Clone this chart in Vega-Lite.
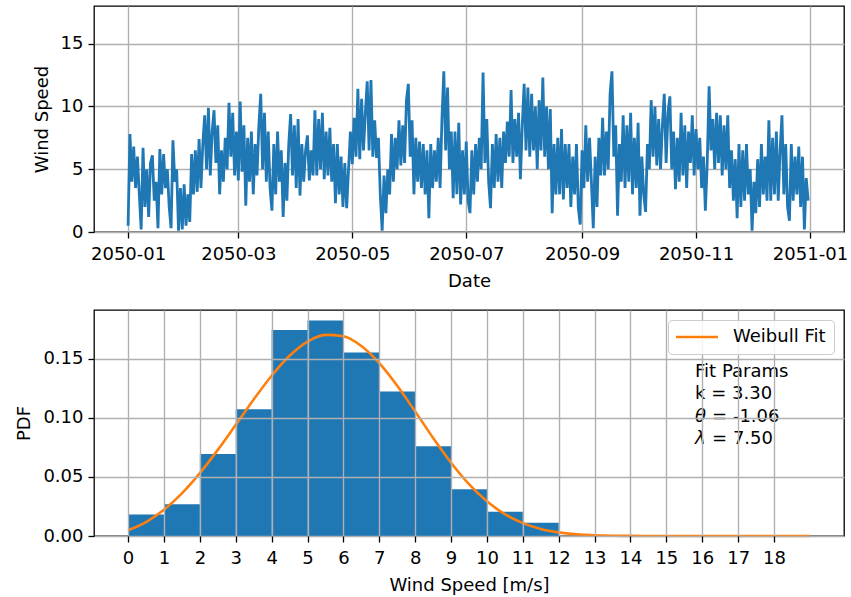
{
"$schema": "https://vega.github.io/schema/vega-lite/v6.json",
"padding": {"left": 15, "top": 5, "right": 2, "bottom": 0},
"background": "white",
"spacing": 18,
"config": {
  "font": "DejaVu Sans",
  "view": {"stroke": "black", "strokeWidth": 1.3},
  "axis": {"grid": true, "gridColor": "#b0b0b0", "gridWidth": 1.4, "domain": false, "tickColor": "black", "tickSize": 6, "tickWidth": 1.3, "labelFontSize": 18, "labelColor": "black", "titleFontSize": 18, "titleFontWeight": "normal", "titleColor": "black", "labelPadding": 5, "titlePadding": 9, "labelFlush": false, "labelOverlap": false},
  "axisX": {"labelPadding": 7},
  "text": {"font": "DejaVu Sans"}
},
"resolve": {"scale": {"color": "independent"}, "legend": {"color": "independent"}},
"datasets": {
"ts": [
{"t":"2050-01-01","v":0.5},{"t":"2050-01-02","v":7.8},{"t":"2050-01-03","v":4.0},{"t":"2050-01-04","v":6.8},{"t":"2050-01-05","v":3.5},{"t":"2050-01-06","v":6.0},{"t":"2050-01-07","v":3.0},{"t":"2050-01-08","v":0.2},{"t":"2050-01-09","v":6.7},{"t":"2050-01-10","v":2.0},{"t":"2050-01-11","v":5.0},{"t":"2050-01-12","v":1.2},{"t":"2050-01-13","v":5.5},{"t":"2050-01-14","v":6.1},{"t":"2050-01-15","v":2.5},{"t":"2050-01-16","v":4.0},{"t":"2050-01-17","v":0.3},{"t":"2050-01-18","v":6.6},{"t":"2050-01-19","v":3.0},{"t":"2050-01-20","v":6.2},{"t":"2050-01-21","v":3.5},{"t":"2050-01-22","v":5.0},{"t":"2050-01-23","v":2.0},{"t":"2050-01-24","v":0.3},{"t":"2050-01-25","v":7.3},{"t":"2050-01-26","v":4.0},{"t":"2050-01-27","v":5.0},{"t":"2050-01-28","v":0.1},{"t":"2050-01-29","v":3.5},{"t":"2050-01-30","v":0.2},{"t":"2050-01-31","v":3.8},
{"t":"2050-02-01","v":0.5},{"t":"2050-02-02","v":3.0},{"t":"2050-02-03","v":0.8},{"t":"2050-02-04","v":6.2},{"t":"2050-02-05","v":3.0},{"t":"2050-02-06","v":6.5},{"t":"2050-02-07","v":3.2},{"t":"2050-02-08","v":7.4},{"t":"2050-02-09","v":3.5},{"t":"2050-02-10","v":7.0},{"t":"2050-02-11","v":9.3},{"t":"2050-02-12","v":5.0},{"t":"2050-02-13","v":9.9},{"t":"2050-02-14","v":4.5},{"t":"2050-02-15","v":8.0},{"t":"2050-02-16","v":9.7},{"t":"2050-02-17","v":5.5},{"t":"2050-02-18","v":8.5},{"t":"2050-02-19","v":3.0},{"t":"2050-02-20","v":6.5},{"t":"2050-02-21","v":4.0},{"t":"2050-02-22","v":7.5},{"t":"2050-02-23","v":5.0},{"t":"2050-02-24","v":10.3},{"t":"2050-02-25","v":6.0},{"t":"2050-02-26","v":9.5},{"t":"2050-02-27","v":4.5},{"t":"2050-02-28","v":8.0},
{"t":"2050-03-01","v":4.1},{"t":"2050-03-02","v":10.4},{"t":"2050-03-03","v":4.8},{"t":"2050-03-04","v":8.5},{"t":"2050-03-05","v":2.1},{"t":"2050-03-06","v":7.5},{"t":"2050-03-07","v":4.0},{"t":"2050-03-08","v":8.0},{"t":"2050-03-09","v":3.0},{"t":"2050-03-10","v":7.0},{"t":"2050-03-11","v":4.5},{"t":"2050-03-12","v":8.5},{"t":"2050-03-13","v":11.0},{"t":"2050-03-14","v":5.0},{"t":"2050-03-15","v":9.5},{"t":"2050-03-16","v":4.0},{"t":"2050-03-17","v":8.0},{"t":"2050-03-18","v":3.5},{"t":"2050-03-19","v":1.7},{"t":"2050-03-20","v":7.0},{"t":"2050-03-21","v":3.0},{"t":"2050-03-22","v":8.0},{"t":"2050-03-23","v":4.0},{"t":"2050-03-24","v":6.5},{"t":"2050-03-25","v":1.2},{"t":"2050-03-26","v":5.5},{"t":"2050-03-27","v":2.5},{"t":"2050-03-28","v":7.0},{"t":"2050-03-29","v":9.4},{"t":"2050-03-30","v":4.5},{"t":"2050-03-31","v":8.5},
{"t":"2050-04-01","v":3.5},{"t":"2050-04-02","v":9.0},{"t":"2050-04-03","v":2.9},{"t":"2050-04-04","v":7.0},{"t":"2050-04-05","v":4.0},{"t":"2050-04-06","v":6.5},{"t":"2050-04-07","v":7.7},{"t":"2050-04-08","v":4.1},{"t":"2050-04-09","v":6.5},{"t":"2050-04-10","v":4.5},{"t":"2050-04-11","v":9.7},{"t":"2050-04-12","v":4.5},{"t":"2050-04-13","v":9.0},{"t":"2050-04-14","v":5.0},{"t":"2050-04-15","v":9.5},{"t":"2050-04-16","v":4.2},{"t":"2050-04-17","v":8.0},{"t":"2050-04-18","v":4.5},{"t":"2050-04-19","v":8.3},{"t":"2050-04-20","v":4.0},{"t":"2050-04-21","v":7.0},{"t":"2050-04-22","v":2.3},{"t":"2050-04-23","v":7.0},{"t":"2050-04-24","v":3.0},{"t":"2050-04-25","v":6.0},{"t":"2050-04-26","v":2.0},{"t":"2050-04-27","v":5.5},{"t":"2050-04-28","v":1.9},{"t":"2050-04-29","v":5.0},{"t":"2050-04-30","v":8.0},
{"t":"2050-05-01","v":5.4},{"t":"2050-05-02","v":9.1},{"t":"2050-05-03","v":6.0},{"t":"2050-05-04","v":11.4},{"t":"2050-05-05","v":5.8},{"t":"2050-05-06","v":10.6},{"t":"2050-05-07","v":6.5},{"t":"2050-05-08","v":9.5},{"t":"2050-05-09","v":12.0},{"t":"2050-05-10","v":6.5},{"t":"2050-05-11","v":12.1},{"t":"2050-05-12","v":6.0},{"t":"2050-05-13","v":8.9},{"t":"2050-05-14","v":5.9},{"t":"2050-05-15","v":7.5},{"t":"2050-05-16","v":3.0},{"t":"2050-05-17","v":0.1},{"t":"2050-05-18","v":4.5},{"t":"2050-05-19","v":1.5},{"t":"2050-05-20","v":5.0},{"t":"2050-05-21","v":3.0},{"t":"2050-05-22","v":7.8},{"t":"2050-05-23","v":4.0},{"t":"2050-05-24","v":7.5},{"t":"2050-05-25","v":5.0},{"t":"2050-05-26","v":8.9},{"t":"2050-05-27","v":5.3},{"t":"2050-05-28","v":8.5},{"t":"2050-05-29","v":5.5},{"t":"2050-05-30","v":10.5},{"t":"2050-05-31","v":11.8},
{"t":"2050-06-01","v":6.0},{"t":"2050-06-02","v":8.9},{"t":"2050-06-03","v":3.0},{"t":"2050-06-04","v":7.5},{"t":"2050-06-05","v":4.0},{"t":"2050-06-06","v":7.2},{"t":"2050-06-07","v":3.5},{"t":"2050-06-08","v":7.0},{"t":"2050-06-09","v":3.0},{"t":"2050-06-10","v":6.5},{"t":"2050-06-11","v":1.1},{"t":"2050-06-12","v":7.0},{"t":"2050-06-13","v":3.5},{"t":"2050-06-14","v":6.5},{"t":"2050-06-15","v":4.0},{"t":"2050-06-16","v":7.5},{"t":"2050-06-17","v":3.5},{"t":"2050-06-18","v":9.0},{"t":"2050-06-19","v":12.8},{"t":"2050-06-20","v":6.5},{"t":"2050-06-21","v":11.5},{"t":"2050-06-22","v":5.0},{"t":"2050-06-23","v":8.0},{"t":"2050-06-24","v":2.7},{"t":"2050-06-25","v":8.0},{"t":"2050-06-26","v":3.0},{"t":"2050-06-27","v":8.7},{"t":"2050-06-28","v":2.2},{"t":"2050-06-29","v":6.5},{"t":"2050-06-30","v":3.0},
{"t":"2050-07-01","v":7.2},{"t":"2050-07-02","v":2.5},{"t":"2050-07-03","v":1.5},{"t":"2050-07-04","v":6.5},{"t":"2050-07-05","v":3.0},{"t":"2050-07-06","v":7.0},{"t":"2050-07-07","v":4.0},{"t":"2050-07-08","v":7.5},{"t":"2050-07-09","v":5.0},{"t":"2050-07-10","v":12.7},{"t":"2050-07-11","v":5.5},{"t":"2050-07-12","v":9.0},{"t":"2050-07-13","v":4.0},{"t":"2050-07-14","v":1.9},{"t":"2050-07-15","v":7.0},{"t":"2050-07-16","v":3.5},{"t":"2050-07-17","v":7.8},{"t":"2050-07-18","v":4.0},{"t":"2050-07-19","v":7.5},{"t":"2050-07-20","v":3.5},{"t":"2050-07-21","v":8.0},{"t":"2050-07-22","v":5.5},{"t":"2050-07-23","v":8.8},{"t":"2050-07-24","v":6.0},{"t":"2050-07-25","v":11.3},{"t":"2050-07-26","v":5.5},{"t":"2050-07-27","v":9.0},{"t":"2050-07-28","v":6.0},{"t":"2050-07-29","v":9.5},{"t":"2050-07-30","v":4.2},{"t":"2050-07-31","v":8.5},
{"t":"2050-08-01","v":11.8},{"t":"2050-08-02","v":6.5},{"t":"2050-08-03","v":11.5},{"t":"2050-08-04","v":6.0},{"t":"2050-08-05","v":11.0},{"t":"2050-08-06","v":6.5},{"t":"2050-08-07","v":10.0},{"t":"2050-08-08","v":5.0},{"t":"2050-08-09","v":10.5},{"t":"2050-08-10","v":6.5},{"t":"2050-08-11","v":12.3},{"t":"2050-08-12","v":6.0},{"t":"2050-08-13","v":10.0},{"t":"2050-08-14","v":5.0},{"t":"2050-08-15","v":9.8},{"t":"2050-08-16","v":1.5},{"t":"2050-08-17","v":7.0},{"t":"2050-08-18","v":3.0},{"t":"2050-08-19","v":7.5},{"t":"2050-08-20","v":3.0},{"t":"2050-08-21","v":8.2},{"t":"2050-08-22","v":2.6},{"t":"2050-08-23","v":7.0},{"t":"2050-08-24","v":3.5},{"t":"2050-08-25","v":7.0},{"t":"2050-08-26","v":2.0},{"t":"2050-08-27","v":6.0},{"t":"2050-08-28","v":3.0},{"t":"2050-08-29","v":7.0},{"t":"2050-08-30","v":1.9},{"t":"2050-08-31","v":0.6},
{"t":"2050-09-01","v":6.5},{"t":"2050-09-02","v":3.5},{"t":"2050-09-03","v":8.5},{"t":"2050-09-04","v":4.0},{"t":"2050-09-05","v":7.5},{"t":"2050-09-06","v":4.0},{"t":"2050-09-07","v":0.3},{"t":"2050-09-08","v":6.0},{"t":"2050-09-09","v":2.0},{"t":"2050-09-10","v":7.5},{"t":"2050-09-11","v":4.5},{"t":"2050-09-12","v":9.1},{"t":"2050-09-13","v":4.5},{"t":"2050-09-14","v":8.0},{"t":"2050-09-15","v":5.0},{"t":"2050-09-16","v":11.0},{"t":"2050-09-17","v":12.8},{"t":"2050-09-18","v":6.0},{"t":"2050-09-19","v":8.5},{"t":"2050-09-20","v":1.3},{"t":"2050-09-21","v":7.0},{"t":"2050-09-22","v":4.0},{"t":"2050-09-23","v":9.3},{"t":"2050-09-24","v":3.5},{"t":"2050-09-25","v":8.5},{"t":"2050-09-26","v":4.0},{"t":"2050-09-27","v":9.5},{"t":"2050-09-28","v":3.0},{"t":"2050-09-29","v":7.5},{"t":"2050-09-30","v":3.5},
{"t":"2050-10-01","v":8.7},{"t":"2050-10-02","v":1.3},{"t":"2050-10-03","v":6.0},{"t":"2050-10-04","v":3.0},{"t":"2050-10-05","v":1.6},{"t":"2050-10-06","v":7.0},{"t":"2050-10-07","v":5.0},{"t":"2050-10-08","v":10.5},{"t":"2050-10-09","v":6.0},{"t":"2050-10-10","v":10.0},{"t":"2050-10-11","v":5.3},{"t":"2050-10-12","v":9.0},{"t":"2050-10-13","v":5.0},{"t":"2050-10-14","v":8.5},{"t":"2050-10-15","v":11.0},{"t":"2050-10-16","v":5.5},{"t":"2050-10-17","v":9.5},{"t":"2050-10-18","v":10.8},{"t":"2050-10-19","v":5.0},{"t":"2050-10-20","v":8.0},{"t":"2050-10-21","v":3.4},{"t":"2050-10-22","v":7.5},{"t":"2050-10-23","v":4.0},{"t":"2050-10-24","v":9.5},{"t":"2050-10-25","v":4.5},{"t":"2050-10-26","v":8.5},{"t":"2050-10-27","v":3.5},{"t":"2050-10-28","v":8.0},{"t":"2050-10-29","v":5.5},{"t":"2050-10-30","v":9.3},{"t":"2050-10-31","v":4.5},
{"t":"2050-11-01","v":8.2},{"t":"2050-11-02","v":5.0},{"t":"2050-11-03","v":7.5},{"t":"2050-11-04","v":3.5},{"t":"2050-11-05","v":6.0},{"t":"2050-11-06","v":1.7},{"t":"2050-11-07","v":5.5},{"t":"2050-11-08","v":11.6},{"t":"2050-11-09","v":6.5},{"t":"2050-11-10","v":9.0},{"t":"2050-11-11","v":5.0},{"t":"2050-11-12","v":9.5},{"t":"2050-11-13","v":5.5},{"t":"2050-11-14","v":9.3},{"t":"2050-11-15","v":4.5},{"t":"2050-11-16","v":8.5},{"t":"2050-11-17","v":5.0},{"t":"2050-11-18","v":9.3},{"t":"2050-11-19","v":3.5},{"t":"2050-11-20","v":6.5},{"t":"2050-11-21","v":2.5},{"t":"2050-11-22","v":5.8},{"t":"2050-11-23","v":1.1},{"t":"2050-11-24","v":7.0},{"t":"2050-11-25","v":2.0},{"t":"2050-11-26","v":6.5},{"t":"2050-11-27","v":2.5},{"t":"2050-11-28","v":7.0},{"t":"2050-11-29","v":3.0},{"t":"2050-11-30","v":5.0},
{"t":"2050-12-01","v":0.1},{"t":"2050-12-02","v":4.0},{"t":"2050-12-03","v":1.5},{"t":"2050-12-04","v":5.8},{"t":"2050-12-05","v":2.0},{"t":"2050-12-06","v":7.0},{"t":"2050-12-07","v":3.0},{"t":"2050-12-08","v":6.0},{"t":"2050-12-09","v":2.5},{"t":"2050-12-10","v":8.9},{"t":"2050-12-11","v":2.5},{"t":"2050-12-12","v":7.5},{"t":"2050-12-13","v":3.0},{"t":"2050-12-14","v":8.0},{"t":"2050-12-15","v":2.5},{"t":"2050-12-16","v":6.5},{"t":"2050-12-17","v":9.3},{"t":"2050-12-18","v":3.0},{"t":"2050-12-19","v":7.0},{"t":"2050-12-20","v":2.0},{"t":"2050-12-21","v":0.9},{"t":"2050-12-22","v":7.0},{"t":"2050-12-23","v":2.5},{"t":"2050-12-24","v":6.0},{"t":"2050-12-25","v":3.0},{"t":"2050-12-26","v":6.8},{"t":"2050-12-27","v":2.0},{"t":"2050-12-28","v":6.0},{"t":"2050-12-29","v":0.2},{"t":"2050-12-30","v":4.3},{"t":"2050-12-31","v":2.5}
],
"hist": [
{"b0":0,"b1":1,"d":0.0181},{"b0":1,"b1":2,"d":0.0268},{"b0":2,"b1":3,"d":0.0693},{"b0":3,"b1":4,"d":0.1072},{"b0":4,"b1":5,"d":0.1740},{"b0":5,"b1":6,"d":0.1822},{"b0":6,"b1":7,"d":0.1550},{"b0":7,"b1":8,"d":0.1222},{"b0":8,"b1":9,"d":0.0758},{"b0":9,"b1":10,"d":0.0396},{"b0":10,"b1":11,"d":0.0204},{"b0":11,"b1":12,"d":0.0113}
],
"fit": [
{"x":0,"pdf":0.00488,"s":"Weibull Fit"},{"x":0.5,"pdf":0.01182,"s":"Weibull Fit"},{"x":1,"pdf":0.02222,"s":"Weibull Fit"},{"x":1.5,"pdf":0.03608,"s":"Weibull Fit"},{"x":2,"pdf":0.05314,"s":"Weibull Fit"},{"x":2.5,"pdf":0.07278,"s":"Weibull Fit"},{"x":3,"pdf":0.094,"s":"Weibull Fit"},{"x":3.5,"pdf":0.11543,"s":"Weibull Fit"},{"x":4,"pdf":0.13547,"s":"Weibull Fit"},{"x":4.5,"pdf":0.15231,"s":"Weibull Fit"},{"x":5,"pdf":0.16431,"s":"Weibull Fit"},{"x":5.5,"pdf":0.17002,"s":"Weibull Fit"},{"x":6,"pdf":0.16878,"s":"Weibull Fit"},{"x":6.5,"pdf":0.16053,"s":"Weibull Fit"},{"x":7,"pdf":0.14608,"s":"Weibull Fit"},{"x":7.5,"pdf":0.12696,"s":"Weibull Fit"},{"x":8,"pdf":0.10521,"s":"Weibull Fit"},{"x":8.5,"pdf":0.0829,"s":"Weibull Fit"},{"x":9,"pdf":0.06197,"s":"Weibull Fit"},{"x":9.5,"pdf":0.04385,"s":"Weibull Fit"},{"x":10,"pdf":0.02927,"s":"Weibull Fit"},{"x":10.5,"pdf":0.0184,"s":"Weibull Fit"},{"x":11,"pdf":0.01086,"s":"Weibull Fit"},{"x":11.5,"pdf":0.00599,"s":"Weibull Fit"},{"x":12,"pdf":0.00309,"s":"Weibull Fit"},{"x":12.5,"pdf":0.00148,"s":"Weibull Fit"},{"x":13,"pdf":0.00066,"s":"Weibull Fit"},{"x":13.5,"pdf":0.00027,"s":"Weibull Fit"},{"x":14,"pdf":0.0001,"s":"Weibull Fit"},{"x":14.5,"pdf":0.00004,"s":"Weibull Fit"},{"x":15,"pdf":0.00001,"s":"Weibull Fit"},{"x":16,"pdf":0,"s":"Weibull Fit"},{"x":17,"pdf":0,"s":"Weibull Fit"},{"x":18,"pdf":0,"s":"Weibull Fit"},{"x":19,"pdf":0,"s":"Weibull Fit"}
]
},
"vconcat": [
{
  "width": 750, "height": 226,
  "data": {"name": "ts"},
  "mark": {"type": "line", "color": "#1f77b4", "strokeWidth": 2.8},
  "encoding": {
    "x": {"field": "t", "type": "temporal",
      "scale": {"type": "utc", "domain": [{"year": 2049, "month": 12, "date": 13, "hours": 18, "utc": true}, {"year": 2051, "month": 1, "date": 19, "hours": 5, "utc": true}]},
      "axis": {"title": "Date", "labelExpr": "utcFormat(datum.value, '%Y-%m')",
        "values": [{"year": 2050, "month": 1, "date": 1, "utc": true}, {"year": 2050, "month": 3, "date": 1, "utc": true}, {"year": 2050, "month": 5, "date": 1, "utc": true}, {"year": 2050, "month": 7, "date": 1, "utc": true}, {"year": 2050, "month": 9, "date": 1, "utc": true}, {"year": 2050, "month": 11, "date": 1, "utc": true}, {"year": 2051, "month": 1, "date": 1, "utc": true}]}},
    "y": {"field": "v", "type": "quantitative", "scale": {"domain": [0, 18], "nice": false}, "axis": {"title": "Wind Speed", "values": [0, 5, 10, 15]}}
  }
},
{
  "width": 750, "height": 226,
  "layer": [
    {
      "data": {"name": "hist"},
      "mark": {"type": "bar", "color": "#1f77b4", "orient": "vertical"},
      "encoding": {
        "x": {"field": "b0", "type": "quantitative", "scale": {"domain": [-0.95, 19.95], "nice": false, "zero": false, "padding": 0},
          "axis": {"title": "Wind Speed [m/s]", "values": [0,1,2,3,4,5,6,7,8,9,10,11,12,13,14,15,16,17,18], "zindex": 1}},
        "x2": {"field": "b1"},
        "y": {"field": "d", "type": "quantitative", "scale": {"domain": [0, 0.191], "nice": false},
          "axis": {"title": "PDF", "values": [0, 0.05, 0.1, 0.15], "format": ".2f", "zindex": 1}},
        "y2": {"datum": 0}
      }
    },
    {
      "data": {"name": "fit"},
      "mark": {"type": "line", "strokeWidth": 2.6, "interpolate": "monotone"},
      "encoding": {
        "x": {"field": "x", "type": "quantitative"},
        "y": {"field": "pdf", "type": "quantitative"},
        "color": {"field": "s", "type": "nominal", "scale": {"domain": ["Weibull Fit"], "range": ["#ff7f0e"]},
          "legend": {"title": null, "orient": "top-right", "offset": 10, "symbolType": "M-1.286,0H4.714", "symbolSize": 196, "symbolStrokeWidth": 2.6, "labelFontSize": 18, "labelColor": "black", "labelOffset": 39, "padding": 8, "fillColor": "rgba(255,255,255,0.85)", "strokeColor": "#cccccc", "cornerRadius": 4, "zindex": 2}}
      }
    },
    {
      "data": {"values": [{}]},
      "mark": {"type": "text", "text": ["Fit Params", "k = 3.30"], "lineHeight": 22.2, "align": "left", "baseline": "top", "fontSize": 18, "color": "black"},
      "encoding": {"x": {"datum": 15.8}, "y": {"datum": 0.146}}
    },
    {
      "data": {"values": [{}]},
      "mark": {"type": "text", "text": ["θ", "λ"], "lineHeight": 22.2, "align": "left", "baseline": "top", "fontSize": 18, "fontStyle": "italic", "color": "black"},
      "encoding": {"x": {"datum": 15.8}, "y": {"datum": 0.1083}}
    },
    {
      "data": {"values": [{}]},
      "mark": {"type": "text", "text": ["= -1.06", "= 7.50"], "lineHeight": 22.2, "align": "left", "baseline": "top", "fontSize": 18, "dx": 17, "color": "black"},
      "encoding": {"x": {"datum": 15.8}, "y": {"datum": 0.1083}}
    }
  ]
}
]
}
